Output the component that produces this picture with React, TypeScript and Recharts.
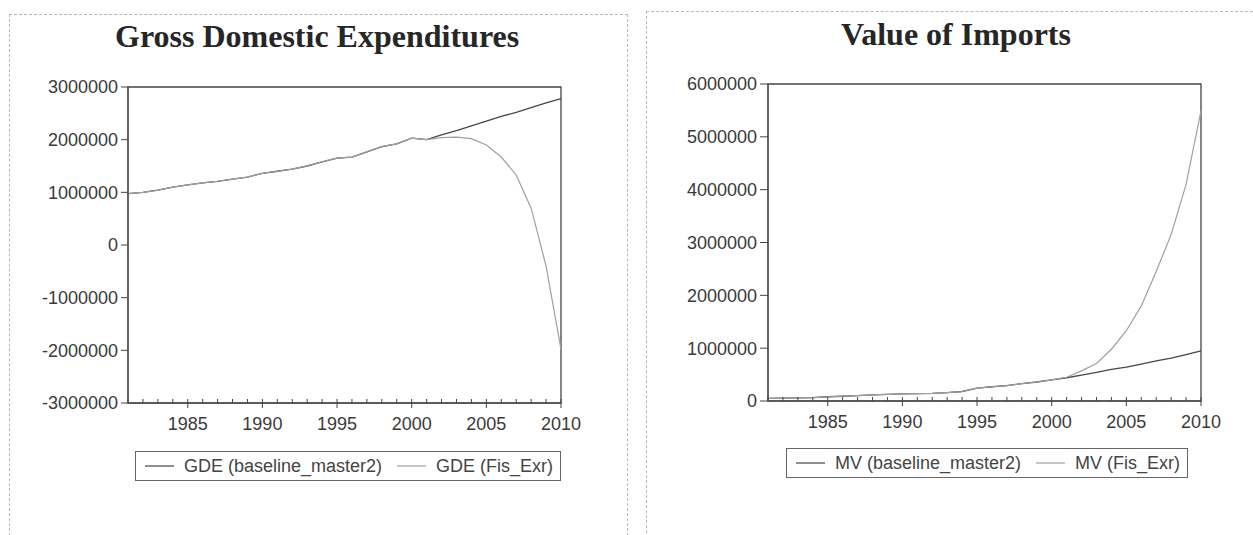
import React from "react";
import { LineChart, Line, XAxis, YAxis, ReferenceArea, Legend } from "recharts";

const years = [1981, 1982, 1983, 1984, 1985, 1986, 1987, 1988, 1989, 1990, 1991, 1992, 1993, 1994, 1995, 1996, 1997, 1998, 1999, 2000, 2001, 2002, 2003, 2004, 2005, 2006, 2007, 2008, 2009, 2010];

const gdeBaseline = [975000, 1000000, 1040000, 1100000, 1140000, 1180000, 1210000, 1250000, 1290000, 1360000, 1400000, 1440000, 1500000, 1580000, 1650000, 1670000, 1770000, 1870000, 1920000, 2030000, 2000000, 2090000, 2170000, 2260000, 2350000, 2440000, 2520000, 2610000, 2700000, 2780000];
const gdeFisExr = [975000, 1000000, 1040000, 1100000, 1140000, 1180000, 1210000, 1250000, 1290000, 1360000, 1400000, 1440000, 1500000, 1580000, 1650000, 1670000, 1770000, 1870000, 1920000, 2030000, 2000000, 2040000, 2050000, 2020000, 1900000, 1670000, 1330000, 700000, -400000, -1980000];

const mvBaseline = [50000, 55000, 60000, 65000, 80000, 90000, 100000, 115000, 125000, 135000, 140000, 145000, 160000, 180000, 245000, 270000, 290000, 330000, 360000, 400000, 440000, 490000, 540000, 600000, 640000, 700000, 760000, 810000, 880000, 950000];
const mvFisExr = [50000, 55000, 60000, 65000, 80000, 90000, 100000, 115000, 125000, 135000, 140000, 145000, 160000, 180000, 245000, 270000, 290000, 330000, 360000, 400000, 450000, 570000, 710000, 980000, 1330000, 1800000, 2450000, 3150000, 4100000, 5490000];

const gdeTicks = [-3000000, -2000000, -1000000, 0, 1000000, 2000000, 3000000];
const mvTicks = [0, 1000000, 2000000, 3000000, 4000000, 5000000, 6000000];

const gdeTitle = "Gross Domestic Expenditures";
const mvTitle = "Value of Imports";
const gdeNames = ["GDE (baseline_master2)", "GDE (Fis_Exr)"];
const mvNames = ["MV (baseline_master2)", "MV (Fis_Exr)"];

const gdeData = years.map((y, i) => ({ year: y, base: gdeBaseline[i], fis: gdeFisExr[i] }));
const mvData = years.map((y, i) => ({ year: y, base: mvBaseline[i], fis: mvFisExr[i] }));

const AXIS = "#444";
const BASE_COLOR = "#474747";
const FIS_COLOR = "#a0a0a0";
const FONT = "'Liberation Sans', Arial, sans-serif";

const XTick = (props: any) => {
  const { x, y, payload } = props;
  const v = payload.value;
  const major = v % 5 === 0;
  return (
    <g>
      <line x1={x} x2={x} y1={y} y2={y - 4} stroke={AXIS} strokeWidth={1} />
      {major && <line x1={x} x2={x} y1={y} y2={y + 5} stroke={AXIS} strokeWidth={1} />}
      {major && (
        <text x={x} y={y + 27} textAnchor="middle" fontSize={18} fill="#3a3a3a" fontFamily={FONT}>
          {v}
        </text>
      )}
    </g>
  );
};

const LegendBox = (props: any) => {
  const { payload } = props;
  const items = [...(payload || [])].sort((a: any, b: any) => String(a.dataKey).localeCompare(String(b.dataKey)));
  return (
    <div
      style={{
        display: "flex",
        alignItems: "center",
        border: "1px solid #666",
        height: 28,
        paddingLeft: 9,
        paddingRight: 7,
        fontFamily: FONT,
        fontSize: 18,
        color: "#444",
        whiteSpace: "nowrap",
        background: "#fff",
      }}
    >
      {items.map((p: any, i: number) => (
        <div key={i} style={{ display: "flex", alignItems: "center", marginLeft: i === 0 ? 0 : 15 }}>
          <svg width={29} height={4} style={{ marginRight: 10 }}>
            <line x1={0} x2={29} y1={2} y2={2} stroke={p.color} strokeWidth={1.2} />
          </svg>
          <span>{p.value}</span>
        </div>
      ))}
    </div>
  );
};

type PanelProps = {
  data: any[];
  ticks: number[];
  domain: [number, number];
  names: string[];
  width: number;
  height: number;
  margin: { top: number; right: number; bottom: number; left: number };
  yTickSize: number;
  legendPos: { left: number; top: number };
};

const Panel = ({ data, ticks, domain, names, width, height, margin, yTickSize, legendPos }: PanelProps) => (
  <LineChart width={width} height={height} data={data} margin={margin}>
    <XAxis
      dataKey="year"
      type="number"
      domain={[1981, 2010]}
      ticks={years}
      interval={0}
      tickLine={false}
      tickSize={0}
      tickMargin={0}
      tick={<XTick />}
      axisLine={{ stroke: AXIS }}
      height={30}
    />
    <YAxis
      type="number"
      domain={domain}
      ticks={ticks}
      interval={0}
      width={128}
      tickSize={yTickSize}
      tickMargin={3}
      tickLine={{ stroke: AXIS }}
      axisLine={{ stroke: AXIS }}
      tick={{ fontSize: 18, fill: "#3a3a3a", fontFamily: FONT }}
      tickFormatter={(v: number) => String(v)}
    />
    <ReferenceArea x1={1981} x2={2010} y1={domain[0]} y2={domain[1]} fill="none" stroke={AXIS} strokeWidth={1.3} />
    <Line dataKey="base" name={names[0]} stroke={BASE_COLOR} strokeWidth={1.3} dot={false} isAnimationActive={false} />
    <Line dataKey="fis" name={names[1]} stroke={FIS_COLOR} strokeWidth={1.2} dot={false} isAnimationActive={false} />
    <Legend
      layout="horizontal"
      verticalAlign="middle"
      align="center"
      itemSorter="dataKey"
      content={<LegendBox />}
      wrapperStyle={{ left: legendPos.left, top: legendPos.top, width: "auto" }}
    />
  </LineChart>
);

const titleStyle: React.CSSProperties = {
  position: "absolute",
  fontFamily: "'Liberation Serif', 'Times New Roman', serif",
  fontWeight: "bold",
  fontSize: 32,
  lineHeight: "32px",
  color: "#262626",
  textAlign: "center",
  whiteSpace: "nowrap",
};

export default function App() {
  return (
    <div style={{ position: "absolute", left: 0, top: 0, width: 1253, height: 535, background: "#fff", overflow: "hidden", fontFamily: FONT }}>
      <div style={{ position: "absolute", left: 9, top: 14, width: 617, height: 540, border: "1px dashed #b8b8b8" }} />
      <div style={{ position: "absolute", left: 646, top: 11, width: 640, height: 540, border: "1px dashed #b8b8b8" }} />
      <div style={{ ...titleStyle, left: 115, width: 400, top: 20 }}>{gdeTitle}</div>
      <div style={{ ...titleStyle, left: 756, width: 400, top: 18 }}>{mvTitle}</div>
      <div style={{ position: "absolute", left: 0, top: 0 }}>
        <Panel
          data={gdeData}
          ticks={gdeTicks}
          domain={[-3000000, 3000000]}
          names={gdeNames}
          width={640}
          height={535}
          margin={{ top: 87, right: 79, bottom: 102, left: 0 }}
          yTickSize={7}
          legendPos={{ left: 135, top: 451 }}
        />
      </div>
      <div style={{ position: "absolute", left: 640, top: 0 }}>
        <Panel
          data={mvData}
          ticks={mvTicks}
          domain={[0, 6000000]}
          names={mvNames}
          width={613}
          height={535}
          margin={{ top: 84, right: 52, bottom: 104, left: 0 }}
          yTickSize={8}
          legendPos={{ left: 146, top: 448 }}
        />
      </div>
    </div>
  );
}
